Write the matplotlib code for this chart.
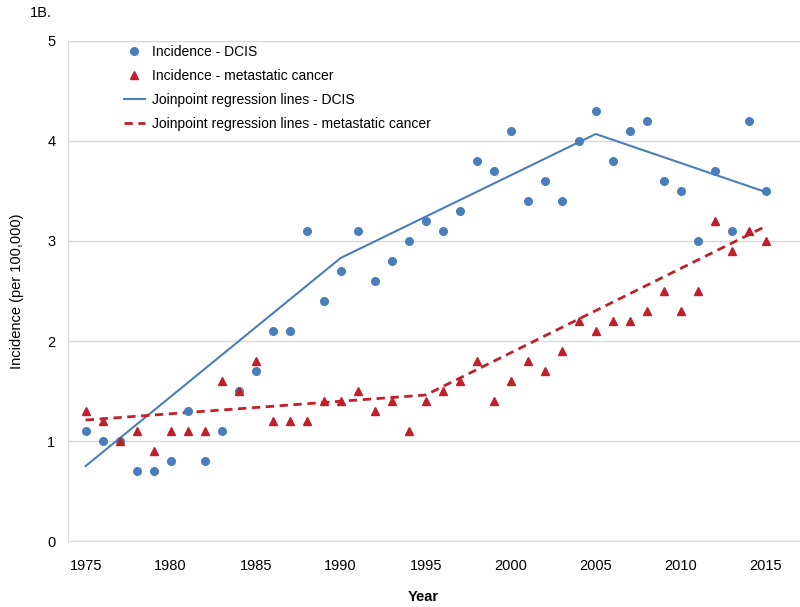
import matplotlib
matplotlib.use('Agg')
import matplotlib.pyplot as plt

plt.rcParams['font.family'] = ['Liberation Sans', 'DejaVu Sans']

years = list(range(1975, 2016))
dcis = [1.1, 1.0, 1.0, 0.7, 0.7, 0.8, 1.3, 0.8, 1.1, 1.5,
        1.7, 2.1, 2.1, 3.1, 2.4, 2.7, 3.1, 2.6, 2.8, 3.0,
        3.2, 3.1, 3.3, 3.8, 3.7, 4.1, 3.4, 3.6, 3.4, 4.0,
        4.3, 3.8, 4.1, 4.2, 3.6, 3.5, 3.0, 3.7, 3.1, 4.2, 3.5]
metastatic = [1.3, 1.2, 1.0, 1.1, 0.9, 1.1, 1.1, 1.1, 1.6, 1.5,
              1.8, 1.2, 1.2, 1.2, 1.4, 1.4, 1.5, 1.3, 1.4, 1.1,
              1.4, 1.5, 1.6, 1.8, 1.4, 1.6, 1.8, 1.7, 1.9, 2.2,
              2.1, 2.2, 2.2, 2.3, 2.5, 2.3, 2.5, 3.2, 2.9, 3.1, 3.0]

# joinpoint regression segments
jp_dcis_x = [1975, 1990, 2005, 2015]
jp_dcis_y = [0.75, 2.83, 4.07, 3.49]
jp_met_x = [1975, 1995, 2014.8]
jp_met_y = [1.21, 1.46, 3.13]

blue = '#4A7EBB'
red = '#C0202A'

fig = plt.figure(figsize=(8, 6.07), dpi=100)
ax = fig.add_axes([0.085, 0.1087, 0.915, 0.8238])

ax.plot(years, dcis, 'o', color=blue, markersize=5.5, label='Incidence - DCIS', zorder=3)
ax.plot(years, metastatic, '^', color=red, markersize=5.5, label='Incidence - metastatic cancer', zorder=3)
ax.plot(jp_dcis_x, jp_dcis_y, '-', color=blue, linewidth=1.5,
        label='Joinpoint regression lines - DCIS', zorder=2)
ax.plot(jp_met_x, jp_met_y, '--', color=red, linewidth=2, dashes=(3, 2),
        label='Joinpoint regression lines - metastatic cancer', zorder=2)

ax.set_xlim(1973.96, 2017.02)
ax.set_ylim(0, 5)
ax.set_xticks(range(1975, 2016, 5))
ax.set_yticks(range(0, 6))
ax.grid(axis='y', color='#D9D9D9', linewidth=1)
ax.set_axisbelow(True)
for s in ax.spines.values():
    s.set_color('#D9D9D9')
ax.spines['right'].set_visible(False)
ax.tick_params(length=0, labelsize=10.5)
ax.tick_params(axis='x', pad=13)
ax.tick_params(axis='y', pad=9)

ax.set_xlabel('Year', fontsize=10.5, fontweight='bold')
ax.xaxis.set_label_coords(0.485, -0.098)
ax.set_ylabel('Incidence (per 100,000)', fontsize=10.5, labelpad=17)

ax.legend(loc='upper left', bbox_to_anchor=(124 / 800, 1 - 45 / 607),
          bbox_transform=fig.transFigure, frameon=False, fontsize=10,
          handlelength=1.5, handletextpad=0.5, labelspacing=0.72,
          borderpad=0, borderaxespad=0)

fig.text(0.037, 0.99, '1B.', fontsize=10.5, va='top')

fig.savefig('out.png', dpi=100)
